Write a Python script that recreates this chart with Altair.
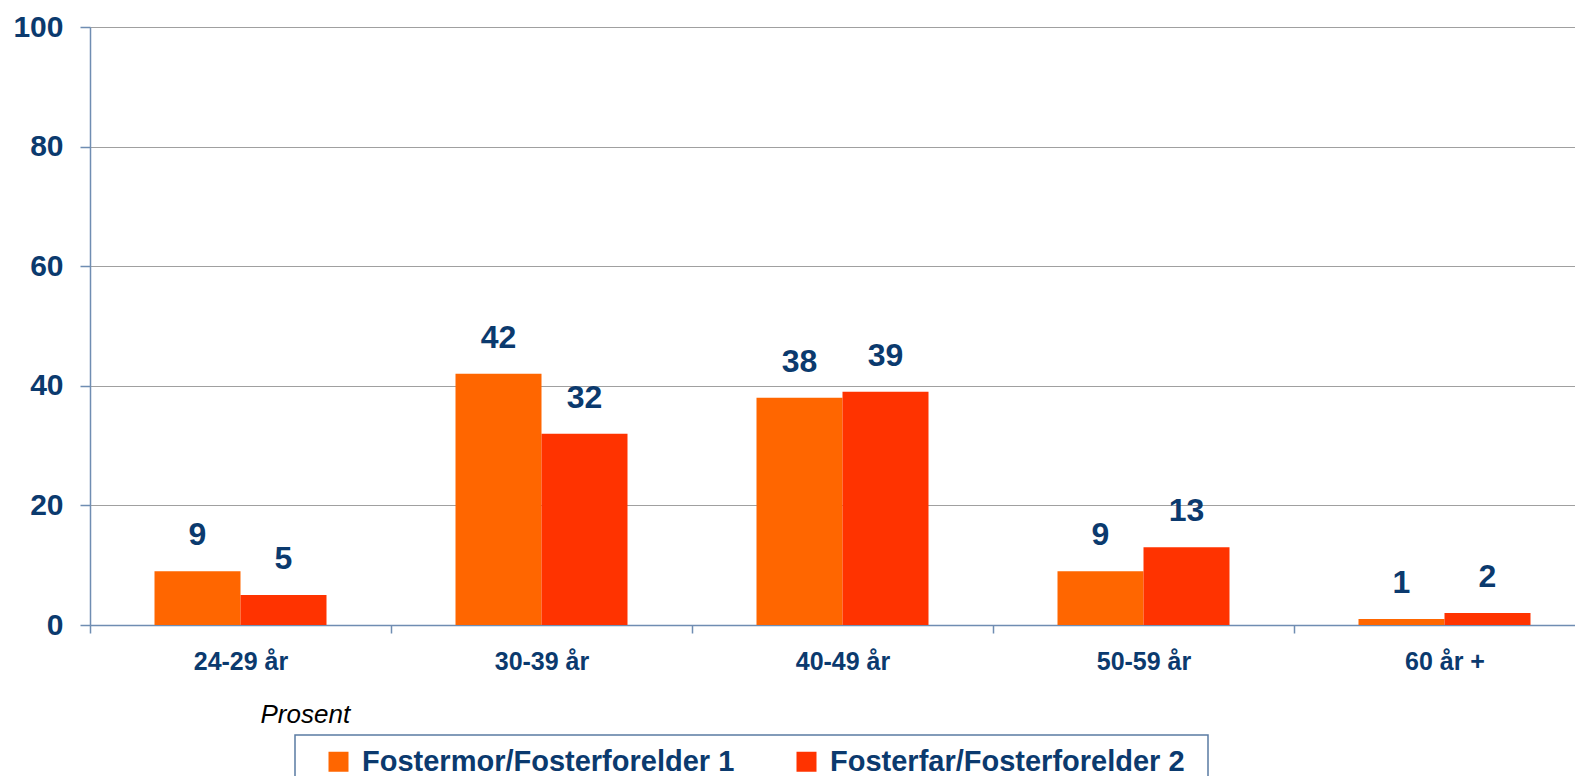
import altair as alt
import pandas as pd

categories = ["24-29 år", "30-39 år", "40-49 år", "50-59 år", "60 år +"]
series = ["Fostermor/Fosterforelder 1", "Fosterfar/Fosterforelder 2"]
mor = [9, 42, 38, 9, 1]
far = [5, 32, 39, 13, 2]
colors = ["#FF6600", "#FF3300"]
y_ticks = [0, 20, 40, 60, 80, 100]

rows = []
for c, a, b in zip(categories, mor, far):
    rows.append({"kat": c, "serie": series[0], "verdi": a})
    rows.append({"kat": c, "serie": series[1], "verdi": b})
df = pd.DataFrame(rows)

NAVY = "#0B3A6E"
FONT = "Liberation Sans"
AXIS = "#6F8DB2"

x = alt.X("kat:N", sort=categories,
          scale=alt.Scale(paddingInner=0, paddingOuter=0, range=[0, 1505]),
          axis=alt.Axis(title="Prosent", labelAngle=0, labelFont=FONT, labelFontSize=25,
                        labelFontWeight="bold", labelColor=NAVY, labelPadding=16,
                        tickBand="extent", tickSize=8, tickColor=AXIS, domainColor=AXIS,
                        domainWidth=1.5, tickWidth=1.5,
                        titleFont=FONT, titleFontSize=26, titleFontStyle="italic",
                        titleFontWeight="normal", titleColor="#000000",
                        titleAlign="left", titleBaseline="middle", titleAnchor="start",
                        titleX=170, titleY=89))
xo = alt.XOffset("serie:N", sort=series,
                 scale=alt.Scale(paddingInner=0, paddingOuter=0.75))

bars = alt.Chart(df).mark_bar().encode(
    x=x,
    xOffset=xo,
    y=alt.Y("verdi:Q", scale=alt.Scale(domain=[0, 100], nice=False),
            axis=alt.Axis(title=None, values=y_ticks, labelFont=FONT, labelFontSize=30,
                          labelFontWeight="bold", labelColor=NAVY, labelPadding=17,
                          tickSize=10, tickColor=AXIS, tickWidth=1.5,
                          domainColor=AXIS, domainWidth=1.5,
                          grid=True, gridColor="#A0A0A0", gridWidth=1.2)),
    color=alt.Color("serie:N", sort=series,
                    scale=alt.Scale(domain=series, range=colors),
                    legend=alt.Legend(title=None, orient="none", legendX=234, legendY=720,
                                      direction="horizontal", symbolType="square",
                                      symbolSize=400, symbolStrokeWidth=0,
                                      labelFont=FONT, labelFontSize=29,
                                      labelFontWeight="bold", labelColor=NAVY,
                                      labelOffset=9, columnPadding=57, labelLimit=600,
                                      padding=0)),
)

labels = alt.Chart(df).mark_text(dy=-19, baseline="bottom", font=FONT, fontSize=32,
                                 fontWeight="bold", color=NAVY).encode(
    x=x, xOffset=xo, y="verdi:Q", text="verdi:Q")

box_df = pd.DataFrame({"b": [0]})
box = alt.Chart(box_df).mark_rect(fill="white", stroke="#5A7BA3", strokeWidth=1.5).encode(
    x=alt.value(205), x2=alt.value(1118), y=alt.value(708), y2=alt.value(800))

chart = alt.layer(box, bars, labels).properties(
    width=1485, height=598,
    padding={"left": 82, "top": 19, "right": 0, "bottom": 151},
    autosize=alt.AutoSizeParams(type="none"),
).configure_view(stroke=None).configure(background="white")

chart.save("out.html", embed_options={"renderer": "svg", "actions": False})
